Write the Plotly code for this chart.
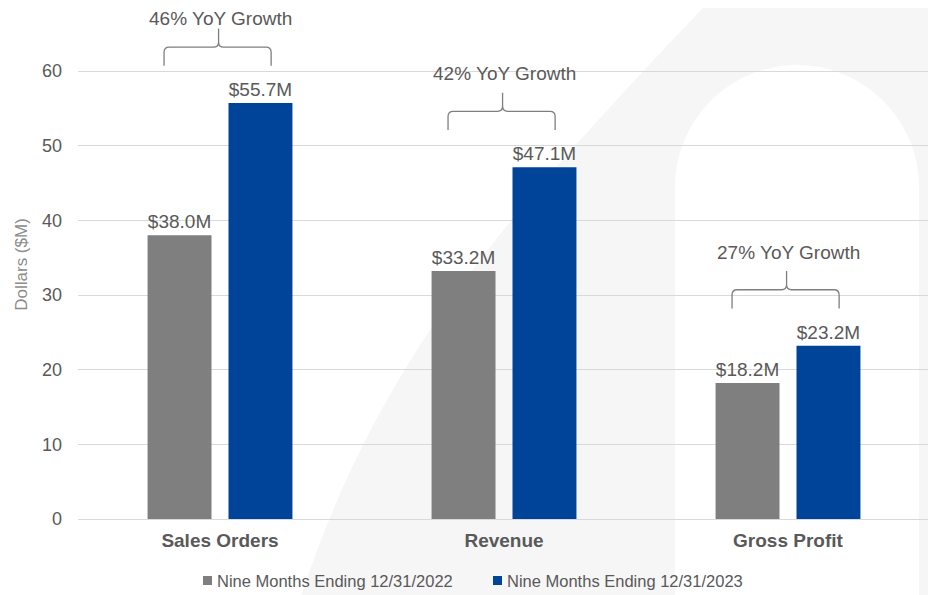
import plotly.graph_objects as go

# ---- data ----
categories = ["Sales Orders", "Revenue", "Gross Profit"]
series_names = ["Nine Months Ending 12/31/2022", "Nine Months Ending 12/31/2023"]
values_2022 = [38.0, 33.2, 18.2]
values_2023 = [55.7, 47.1, 23.2]
growth_labels = ["46%", "42%", "27%"]
y_ticks = [0, 10, 20, 30, 40, 50, 60]

# ---- layout constants (reference pixel coords; page body has an 8px margin) ----
OFF = 8
W, H = 936 - OFF, 595 - OFF
L, R, T, B = 78 - OFF, 930 - OFF, 10 - OFF, 519 - OFF
YMAX = 68.17
FONT = "Liberation Sans, Arial, sans-serif"
TXT = "#595959"
GRAY = "#7f7f7f"
BLUE = "#00449a"
colors = [GRAY, BLUE]

x_pos = list(range(len(categories)))

fig = go.Figure()
for vals, name, col in zip([values_2022, values_2023], series_names, colors):
    fig.add_trace(go.Bar(
        x=x_pos, y=vals, name=name, marker=dict(color=col, line=dict(width=0)),
        texttemplate="$%{y:.1f}M", textposition="outside", cliponaxis=False,
        constraintext="none", textfont=dict(size=19, color=TXT, family=FONT),
        hoverinfo="skip", showlegend=False,
    ))


def px2paper(px, py):
    """reference-image pixel -> paper coords"""
    return (px - OFF - L) / (R - L), (B - (py - OFF)) / (B - T)


def pix_path(cmds):
    out = []
    for c in cmds:
        if isinstance(c, str):
            out.append(c)
        else:
            x, y = px2paper(*c)
            out.append(f"{x:.4f},{y:.4f}")
    return " ".join(out)


shapes = []
# faint background watermark (arch)
shapes.append(dict(type="path", xref="paper", yref="paper", layer="below",
                   path=pix_path(["M", (300, 600), "C", (380, 350), (520, 200), (720, -10),
                                  "L", (940, -10), "L", (940, 600), "Z"]),
                   fillcolor="#f6f6f6", line=dict(width=0)))
shapes.append(dict(type="path", xref="paper", yref="paper", layer="below",
                   path=pix_path(["M", (675, 600), "L", (675, 187), "C", (675, 120), (730, 65), (797, 65),
                                  "C", (864, 65), (919, 120), (919, 187), "L", (919, 600), "Z"]),
                   fillcolor="#ffffff", line=dict(width=0)))

# growth braces
annotations = []
xl, xr, xt = -0.197, 0.18, -0.005
rx, ry = 0.018, 0.7
for i, (v, g) in enumerate(zip(values_2023, growth_labels)):
    yh = v + 7.5
    ye = yh - 2.5
    yt = yh + 2.5
    a, b_, t = i + xl, i + xr, i + xt
    p = (f"M {a},{ye} L {a},{yh-ry} Q {a},{yh} {a+rx},{yh} L {t-rx},{yh} Q {t},{yh} {t},{yh+ry} L {t},{yt} "
         f"M {t},{yh+ry} Q {t},{yh} {t+rx},{yh} L {b_-rx},{yh} Q {b_},{yh} {b_},{yh-ry} L {b_},{ye}")
    shapes.append(dict(type="path", xref="x", yref="y", path=p, line=dict(color=GRAY, width=1.3)))
    annotations.append(dict(x=i, y=min(yh + 5.0, YMAX - 1.1), xref="x", yref="y",
                            text=f"{g} YoY Growth", showarrow=False,
                            font=dict(size=19, color=TXT, family=FONT)))

# legend (drawn manually to match the tight swatch/text spacing)
legend_x = [203, 493]
for lx, name, col in zip(legend_x, series_names, colors):
    x0, y0 = px2paper(lx, 585)
    x1, y1 = px2paper(lx + 9, 576)
    shapes.append(dict(type="rect", xref="paper", yref="paper", x0=x0, y0=y0, x1=x1, y1=y1,
                       fillcolor=col, line=dict(width=0)))
    tx, ty = px2paper(lx + 12, 580.5)
    annotations.append(dict(x=tx, y=ty, xref="paper", yref="paper", xanchor="left", yanchor="middle",
                            text=name, showarrow=False,
                            font=dict(size=16.5, color=TXT, family=FONT)))

fig.update_layout(
    width=W, height=H,
    margin=dict(l=L, r=W - R, t=T, b=H - B, autoexpand=False),
    paper_bgcolor="white", plot_bgcolor="rgba(0,0,0,0)",
    font=dict(family=FONT, color=TXT),
    barmode="group", bargap=0.43, bargroupgap=0.21,
    shapes=shapes, annotations=annotations,
    showlegend=False,
    xaxis=dict(range=[-0.5, 2.5], tickvals=x_pos, ticktext=categories,
               showgrid=False, zeroline=False, showline=False, ticks="",
               tickfont=dict(size=19, color=TXT, family=FONT, weight="bold"),
               ticklabelstandoff=8, fixedrange=True),
    yaxis=dict(range=[0, YMAX], tickvals=y_ticks, showgrid=True, gridcolor="#d9d9d9", gridwidth=1,
               zeroline=True, zerolinecolor="#d9d9d9", zerolinewidth=1, showline=False, ticks="",
               tickfont=dict(size=18, color=TXT, family=FONT), ticklabelstandoff=15,
               title=dict(text="Dollars ($M)", font=dict(size=17, color="#8c8c8c", family=FONT), standoff=10),
               automargin=False, fixedrange=True),
)

fig.write_html("out.html", config={"displayModeBar": False})
